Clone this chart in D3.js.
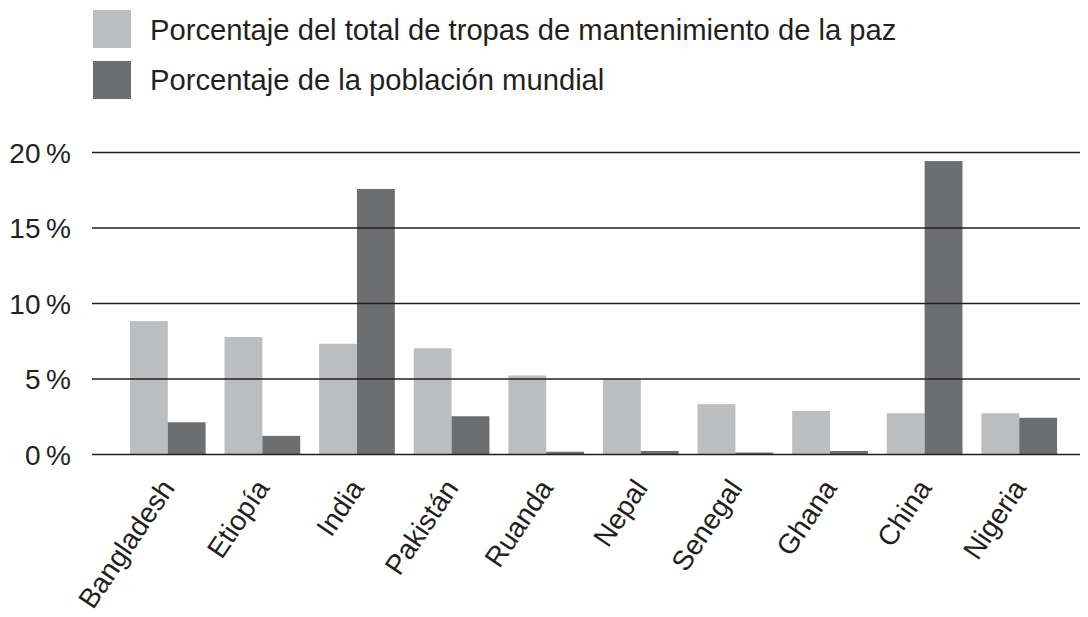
<!DOCTYPE html>
<meta charset="utf-8">
<style>
    body{ margin:0; background:#fff; }
    text{ font-family: "Liberation Sans", Arial, Helvetica, sans-serif; fill:#231f20; }
</style>
<script src="https://cdn.jsdelivr.net/npm/d3@7"></script>
<body>
<div id="chart"></div>
<script>
    // data
    var paises = ["Bangladesh","Etiopía","India","Pakistán","Ruanda","Nepal","Senegal","Ghana","China","Nigeria"];
    var tropas = [8.8, 7.75, 7.3, 7.0, 5.2, 5.0, 3.3, 2.85, 2.7, 2.7];
    var poblacion = [2.1, 1.2, 17.55, 2.5, 0.15, 0.2, 0.1, 0.2, 19.4, 2.4];
    var series = ["Porcentaje del total de tropas de mantenimiento de la paz", "Porcentaje de la población mundial"];
    var yTicks = [0, 5, 10, 15, 20];

    var colores = ["#bcbdbf", "#6d6e70"];
    var width = 1088, height = 617;

    var svg = d3.select("#chart").append("svg")
        .attr("width", width)
        .attr("height", height);

    var x = d3.scaleBand()
        .domain(paises)
        .range([111, 1076])
        .paddingInner(0.2)
        .paddingOuter(0.2);

    var x1 = d3.scaleBand()
        .domain([0, 1])
        .range([0, x.bandwidth()]);

    var y = d3.scaleLinear()
        .domain([0, 20])
        .range([454, 152]);

    // bars first, lines drawn on top
    var datos = [tropas, poblacion];
    datos.forEach(function(serie, s){
        svg.append("g").selectAll("rect")
            .data(serie)
            .enter().append("rect")
            .attr("x", function(d, i){ return x(paises[i]) + x1(s); })
            .attr("y", function(d){ return y(d); })
            .attr("width", x1.bandwidth())
            .attr("height", function(d){ return y(0) - y(d); })
            .attr("fill", colores[s]);
    });

    var yAxis = d3.axisLeft(y)
        .tickValues(yTicks)
        .tickSize(-(1080 - 92))
        .tickFormat(function(d){ return d + "\u2009%"; });

    var gy = svg.append("g")
        .attr("transform", "translate(92,0)")
        .call(yAxis);
    gy.select(".domain").remove();
    gy.selectAll(".tick line")
        .attr("stroke", "#231f20")
        .attr("stroke-width", 1.4);
    gy.selectAll(".tick text")
        .attr("x", -21)
        .attr("dy", "0.36em")
        .attr("fill", "#231f20")
        .style("font-size", "28px");

    // rotated country labels
    svg.append("g").selectAll("text")
        .data(paises)
        .enter().append("text")
        .attr("transform", function(d){
            return "translate(" + (x(d) + x.bandwidth()/2 + 8) + ",488) rotate(-56)";
        })
        .attr("text-anchor", "end")
        .style("font-size", "28px")
        .text(function(d){ return d; });

    // legend
    var leg = svg.append("g");
    series.forEach(function(nombre, i){
        leg.append("rect")
            .attr("x", 93)
            .attr("y", 10 + i*51)
            .attr("width", 38)
            .attr("height", 38)
            .attr("fill", colores[i]);
        leg.append("text")
            .attr("x", 150)
            .attr("y", 39.5 + i*50)
            .style("font-size", "29.2px")
            .text(nombre);
    });
</script>
</body>
